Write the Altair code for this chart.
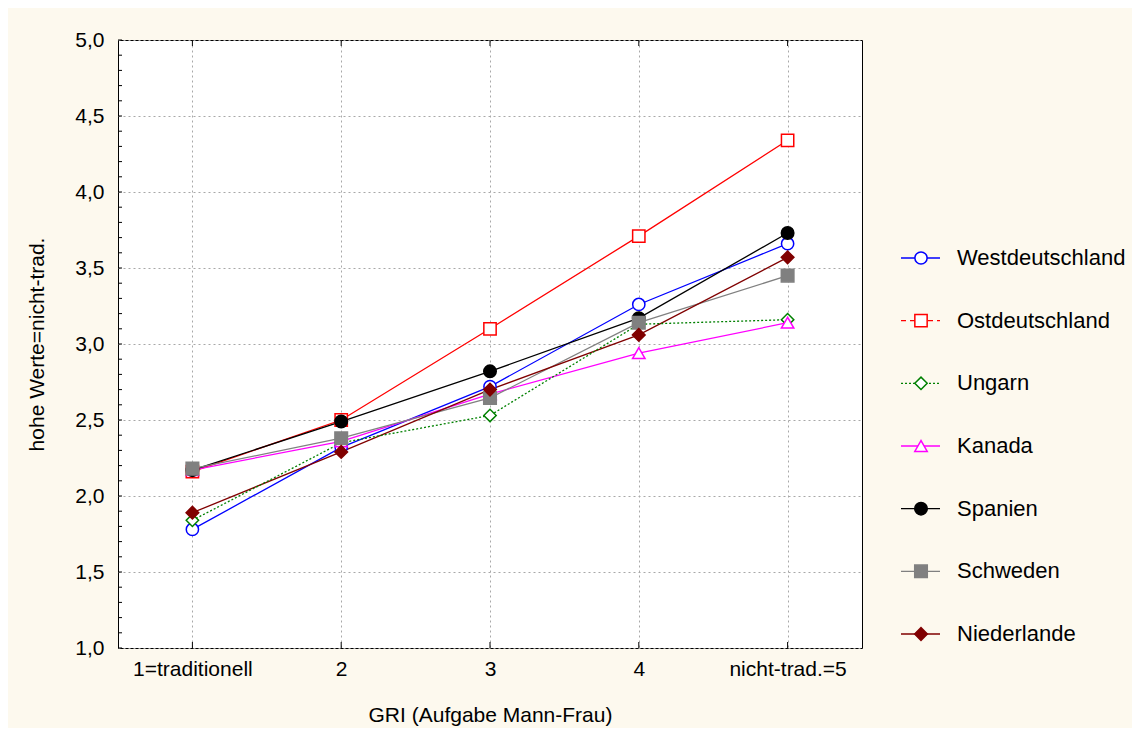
import altair as alt
import pandas as pd

# ---- data ----
series = ["Westdeutschland", "Ostdeutschland", "Ungarn", "Kanada",
          "Spanien", "Schweden", "Niederlande"]
x_values = [1, 2, 3, 4, 5]
x_labels = ["1=traditionell", "2", "3", "4", "nicht-trad.=5"]
y_ticks = [1.0, 1.5, 2.0, 2.5, 3.0, 3.5, 4.0, 4.5, 5.0]
y_minor = [round(1.0 + 0.1 * i, 1) for i in range(41)]

west = [1.78, 2.32, 2.72, 3.26, 3.66]
ost = [2.16, 2.50, 3.10, 3.71, 4.34]
ungarn = [1.84, 2.35, 2.53, 3.13, 3.16]
kanada = [2.17, 2.36, 2.67, 2.94, 3.14]
spanien = [2.17, 2.49, 2.82, 3.17, 3.73]
schweden = [2.18, 2.38, 2.645, 3.14, 3.45]
nieder = [1.89, 2.29, 2.70, 3.06, 3.57]

# ---- styles ----
colors = ["#0000ff", "#ff0000", "#008000", "#ff00ff", "#000000", "#808080", "#800000"]
shapes = ["circle", "square", "diamond", "triangle-up", "circle", "square", "diamond"]
fills = ["#ffffff", "#ffffff", "#ffffff", "#ffffff", "#000000", "#808080", "#800000"]
sizes = [150, 160, 100, 120, 170, 169, 121]
leg_dash = [[1, 0], [5, 4], [2, 2], [1, 0], [1, 0], [1, 0], [1, 0]]

rows = []
for s, vals in zip(series, [west, ost, ungarn, kanada, spanien, schweden, nieder]):
    for x, v in zip(x_values, vals):
        rows.append({"series": s, "x": x, "y": v})
df = pd.DataFrame(rows)
df_main = df[df.series != "Ungarn"]
df_ung = df[df.series == "Ungarn"]
leg = pd.DataFrame({"series": series})
xt = pd.DataFrame({"x": x_values})
yt = pd.DataFrame({"y": y_minor})

W, H = 744, 608
FONT = "Liberation Sans"
xs = alt.Scale(domain=[0.5, 5.5], nice=False, zero=False)
ys = alt.Scale(domain=[1, 5], nice=False, zero=False)
col = alt.Scale(domain=series, range=colors)
grid_color = "#a8a8a8"

label_expr = " : ".join(
    f"datum.value == {v} ? '{l}'" for v, l in zip(x_values, x_labels)) + " : ''"

x_main_axis = alt.Axis(values=x_values, labelExpr=label_expr, grid=True,
                       gridDash=[2, 3], gridColor=grid_color, ticks=False,
                       domain=False, labelFontSize=21, labelPadding=10,
                       labelColor="black", labelFont=FONT,
                       title="GRI (Aufgabe Mann-Frau)", titleFontSize=21,
                       titleFont=FONT, titleFontWeight="normal",
                       titleColor="black", titlePadding=25)
y_main_axis = alt.Axis(values=y_ticks,
                       labelExpr="replace(format(datum.value, '.1f'), '.', ',')",
                       grid=True, gridDash=[2, 3], gridColor=grid_color,
                       ticks=False, domain=False, labelFontSize=21,
                       labelPadding=14, labelColor="black", labelFont=FONT,
                       title="hohe Werte=nicht-trad.", titleFontSize=21,
                       titleFont=FONT, titleFontWeight="normal",
                       titleColor="black", titlePadding=27)

lines = alt.Chart(df_main).mark_line(strokeWidth=1.3).encode(
    x=alt.X("x:Q", scale=xs, axis=x_main_axis),
    y=alt.Y("y:Q", scale=ys, axis=y_main_axis),
    stroke=alt.Stroke("series:N", scale=col, legend=None),
    detail="series:N",
)

ung = alt.Chart(df_ung).mark_line(strokeWidth=1.3, strokeDash=[2, 2]).encode(
    x=alt.X("x:Q", scale=xs, axis=None),
    y=alt.Y("y:Q", scale=ys, axis=None),
    stroke=alt.Stroke("series:N", scale=col, legend=None),
)

pts = alt.Chart(df).mark_point(filled=True, opacity=1, strokeWidth=1.5).encode(
    x=alt.X("x:Q", scale=xs, axis=None),
    y=alt.Y("y:Q", scale=ys, axis=None),
    stroke=alt.Stroke("series:N", scale=col, legend=None),
    fill=alt.Fill("series:N", scale=alt.Scale(domain=series, range=fills), legend=None),
    shape=alt.Shape("series:N", scale=alt.Scale(domain=series, range=shapes), legend=None),
    size=alt.Size("series:N", scale=alt.Scale(domain=series, range=sizes), legend=None),
)

# inner tick marks along the frame
ytick = alt.Chart(yt).mark_rule(color="black", strokeWidth=1).encode(
    y=alt.Y("y:Q", scale=ys, axis=None), x=alt.value(0), x2=alt.value(4))
xtick_top = alt.Chart(xt).mark_rule(color="black", strokeWidth=1).encode(
    x=alt.X("x:Q", scale=xs, axis=None), y=alt.value(0), y2=alt.value(6))
xtick_bot = alt.Chart(xt).mark_rule(color="black", strokeWidth=1).encode(
    x=alt.X("x:Q", scale=xs, axis=None), y=alt.value(H - 6), y2=alt.value(H))

leg_y = alt.Y("series:N",
              scale=alt.Scale(type="point", domain=series, range=[218, 594], padding=0),
              axis=None)

leg_rule = alt.Chart(leg).mark_rule(strokeWidth=1.3).encode(
    x=alt.value(783), x2=alt.value(822), y=leg_y,
    stroke=alt.Stroke("series:N", scale=col, legend=None),
    strokeDash=alt.StrokeDash("series:N",
                              scale=alt.Scale(domain=series, range=leg_dash),
                              legend=None),
)
leg_pt = alt.Chart(leg).mark_point(filled=True, opacity=1, strokeWidth=1.5).encode(
    x=alt.value(803), y=leg_y,
    stroke=alt.Stroke("series:N", scale=col, legend=None),
    fill=alt.Fill("series:N", scale=alt.Scale(domain=series, range=fills), legend=None),
    shape=alt.Shape("series:N", scale=alt.Scale(domain=series, range=shapes), legend=None),
    size=alt.Size("series:N", scale=alt.Scale(domain=series, range=[s * 0.8 for s in sizes]), legend=None),
)
leg_txt = alt.Chart(leg).mark_text(align="left", baseline="middle", fontSize=22,
                                   font=FONT, color="black").encode(
    x=alt.value(839), y=leg_y, text="series:N",
)

chart = alt.layer(lines, ytick, xtick_top, xtick_bot, ung, pts,
                  leg_rule, leg_pt, leg_txt).resolve_scale(
    x="independent", y="independent"
).properties(
    width=W, height=H,
    padding={"left": 110, "top": 32, "right": 270, "bottom": 80},
    autosize=alt.AutoSizeParams(type="none"),
    background="#fdf9ee",
).configure_view(fill="white", stroke="black", strokeWidth=1)

chart.save("out.html", embed_options={"renderer": "svg", "actions": False})
